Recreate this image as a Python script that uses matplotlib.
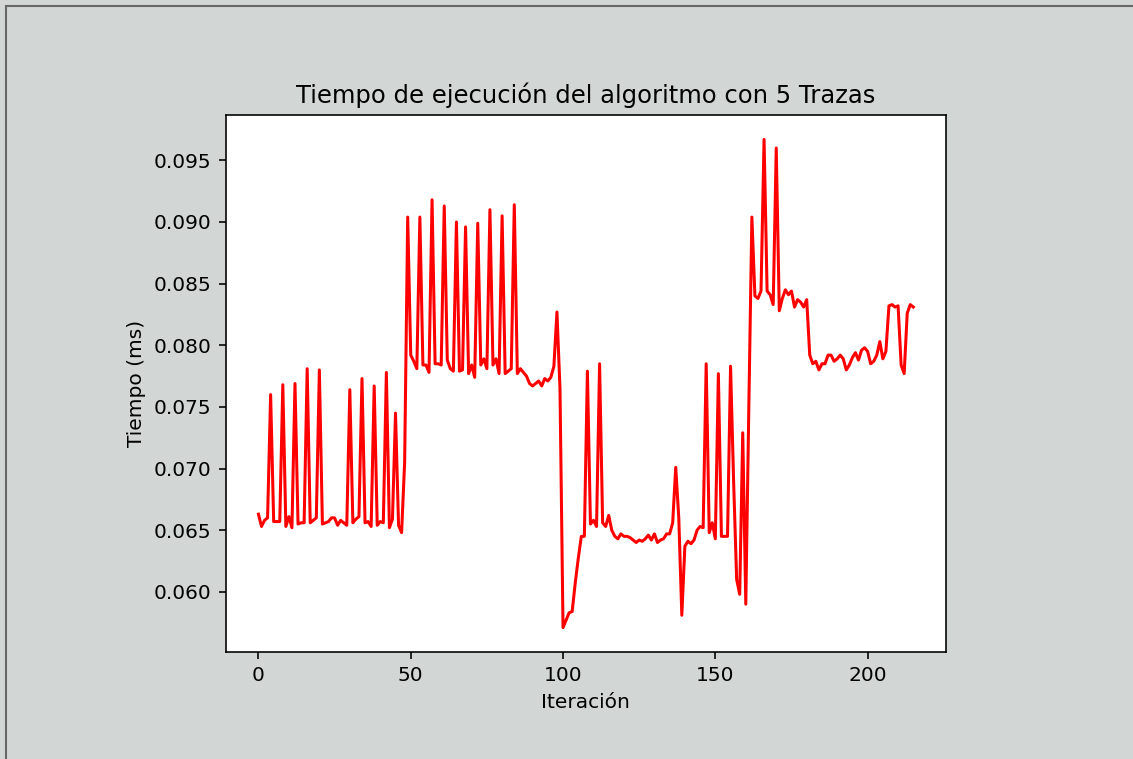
import matplotlib
matplotlib.use("Agg")
import matplotlib.pyplot as plt
from matplotlib.lines import Line2D
import numpy as np

# Tiempos medidos (ms) por iteracion
tiempos = [
    0.0663, 0.0653, 0.0658, 0.0660, 0.0760, 0.0657, 0.0657, 0.0657, 0.0768, 0.0653,
    0.0661, 0.0652, 0.0769, 0.0655, 0.0656, 0.0656, 0.0781, 0.0656, 0.0658, 0.0660,
    0.0780, 0.0655, 0.0656, 0.0657, 0.0660, 0.0660, 0.0654, 0.0658, 0.0656, 0.0654,
    0.0764, 0.0656, 0.0659, 0.0661, 0.0773, 0.0656, 0.0657, 0.0653, 0.0767, 0.0654,
    0.0657, 0.0656, 0.0778, 0.0652, 0.0659, 0.0745, 0.0654, 0.0648, 0.0705, 0.0904,
    0.0792, 0.0787, 0.0781, 0.0904, 0.0784, 0.0784, 0.0778, 0.0918, 0.0785, 0.0785,
    0.0784, 0.0913, 0.0788, 0.0781, 0.0779, 0.0900, 0.0779, 0.0780, 0.0896, 0.0777,
    0.0784, 0.0774, 0.0899, 0.0784, 0.0789, 0.0781, 0.0910, 0.0784, 0.0789, 0.0777,
    0.0905, 0.0777, 0.0779, 0.0781, 0.0914, 0.0777, 0.0781, 0.0778, 0.0775, 0.0769,
    0.0767, 0.0769, 0.0771, 0.0767, 0.0773, 0.0771, 0.0774, 0.0783, 0.0827, 0.0765,
    0.0571, 0.0577, 0.0583, 0.0584, 0.0607, 0.0627, 0.0645, 0.0645, 0.0779, 0.0655,
    0.0658, 0.0653, 0.0785, 0.0656, 0.0653, 0.0662, 0.0650, 0.0645, 0.0643, 0.0647,
    0.0645, 0.0645, 0.0644, 0.0642, 0.0640, 0.0642, 0.0641, 0.0643, 0.0646, 0.0642,
    0.0647, 0.0640, 0.0642, 0.0643, 0.0647, 0.0647, 0.0656, 0.0701, 0.0660, 0.0581,
    0.0637, 0.0641, 0.0639, 0.0642, 0.0650, 0.0653, 0.0652, 0.0785, 0.0648, 0.0656,
    0.0643, 0.0777, 0.0645, 0.0645, 0.0645, 0.0783, 0.0690, 0.0610, 0.0598, 0.0729,
    0.0590, 0.0750, 0.0904, 0.0840, 0.0838, 0.0844, 0.0967, 0.0844, 0.0841, 0.0833,
    0.0960, 0.0828, 0.0838, 0.0845, 0.0841, 0.0844, 0.0831, 0.0837, 0.0835, 0.0831,
    0.0837, 0.0792, 0.0785, 0.0787, 0.0780, 0.0785, 0.0785, 0.0792, 0.0792, 0.0787,
    0.0789, 0.0792, 0.0789, 0.0780, 0.0784, 0.0790, 0.0794, 0.0788, 0.0796, 0.0798,
    0.0795, 0.0785, 0.0787, 0.0792, 0.0803, 0.0789, 0.0795, 0.0832, 0.0833, 0.0831,
    0.0832, 0.0784, 0.0777, 0.0826, 0.0833, 0.0831,
]
iteraciones = np.arange(len(tiempos))

titulo = "Tiempo de ejecución del algoritmo con 5 Trazas"
etiqueta_x = "Iteración"
etiqueta_y = "Tiempo (ms)"

escala = 1.452  # la figura original esta ampliada en la captura
fondo = '#d2d6d5'

plt.rcParams['font.size'] = 10 * escala
plt.rcParams['axes.linewidth'] = 0.8 * escala
plt.rcParams['xtick.major.size'] = 3.5 * escala
plt.rcParams['ytick.major.size'] = 3.5 * escala
plt.rcParams['xtick.major.width'] = 0.8 * escala
plt.rcParams['ytick.major.width'] = 0.8 * escala
plt.rcParams['xtick.major.pad'] = 3.5 * escala
plt.rcParams['ytick.major.pad'] = 3.5 * escala

fig = plt.figure(figsize=(11.33, 7.59), dpi=100, facecolor=fondo)
ax = fig.add_axes([0.1992, 0.141, 0.6358, 0.7075])

ax.plot(iteraciones, tiempos, color='red', linewidth=1.5 * escala)
ax.set_title(titulo, fontsize=12 * escala, pad=6 * escala)
ax.set_xlabel(etiqueta_x, labelpad=4 * escala)
ax.set_ylabel(etiqueta_y, labelpad=4 * escala)
ax.set_xticks([0, 50, 100, 150, 200])
ax.set_yticks([0.060, 0.065, 0.070, 0.075, 0.080, 0.085, 0.090, 0.095])
ax.yaxis.set_major_formatter(matplotlib.ticker.FormatStrFormatter('%.3f'))

# marco de la captura (solo arriba e izquierda)
x0 = 6 / 1133
y0 = 1 - 6 / 759
fig.add_artist(Line2D([x0, x0], [0, y0], transform=fig.transFigure, color='#676767', linewidth=1.5))
fig.add_artist(Line2D([x0, 1], [y0, y0], transform=fig.transFigure, color='#676767', linewidth=1.5))

fig.savefig('out.png', dpi=100, facecolor=fondo)
